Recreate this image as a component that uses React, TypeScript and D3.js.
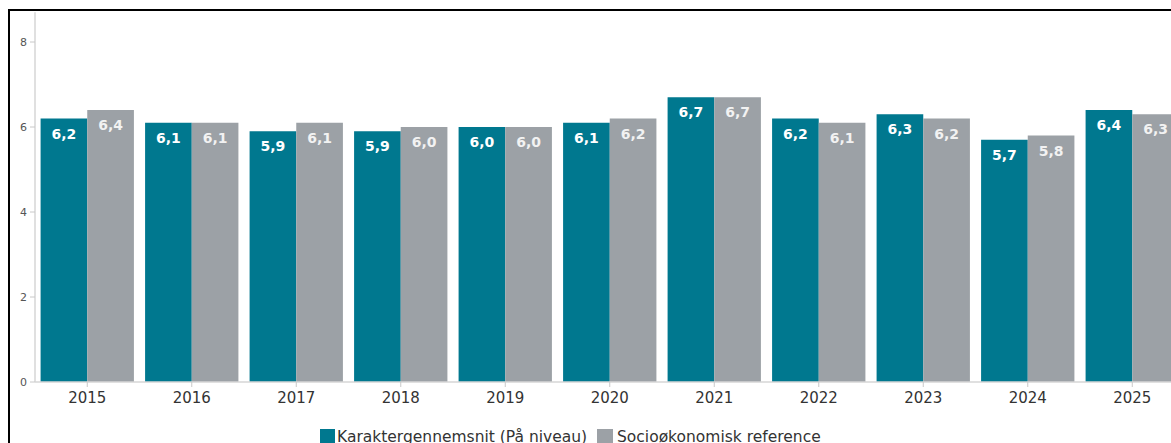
import React from "react";
import * as d3 from "d3";

const years = ["2015","2016","2017","2018","2019","2020","2021","2022","2023","2024","2025"];
const karakter = [6.2,6.1,5.9,5.9,6.0,6.1,6.7,6.2,6.3,5.7,6.4];
const socio = [6.4,6.1,6.1,6.0,6.0,6.2,6.7,6.1,6.2,5.8,6.3];
const seriesNames = ["Karaktergennemsnit (På niveau)", "Socioøkonomisk reference"];
const colors = ["#00788f", "#9ca1a6"];
const yTicks = [0,2,4,6,8];

export default function App() {
  const W = 1171, H = 443;
  const x0 = d3.scaleBand<string>().domain(years).range([35, 35 + 104.5 * years.length]).paddingInner(0.107).paddingOuter(0.0535);
  const x1 = d3.scaleBand<string>().domain(["a","b"]).range([0, x0.bandwidth()]);
  const y = d3.scaleLinear().domain([0, 8.7]).range([382, 12.25]);
  const font = "Verdana, 'DejaVu Sans', sans-serif";
  const fmt = (v: number) => v.toFixed(1).replace(".", ",");
  const series = [karakter, socio];
  return (
    <svg width={W} height={H} style={{position:"absolute", left:0, top:0, background:"#fff"}} fontFamily={font}>
      <rect x={9} y={10} width={1200} height={460} fill="none" stroke="#000" strokeWidth={2} />
      {/* y axis */}
      <line x1={35} x2={35} y1={y(8.7)} y2={y(0)} stroke="#d6d6d6" strokeWidth={1.5} />
      {yTicks.map(t => (
        <g key={t}>
          <line x1={30} x2={35} y1={y(t)} y2={y(t)} stroke="#c8c8c8" />
          <text x={27} y={y(t)} dy="0.35em" textAnchor="end" fontSize={11} fill="#555">{t}</text>
        </g>
      ))}
      {/* bars */}
      {years.map((yr, i) => (
        <g key={yr} transform={`translate(${x0(yr)},0)`}>
          {series.map((s, j) => {
            const k = j === 0 ? "a" : "b";
            const bx = x1(k)!;
            return (
              <g key={k}>
                <rect x={bx} y={y(s[i])} width={x1.bandwidth()} height={y(0) - y(s[i])} fill={colors[j]} />
                <text x={bx + x1.bandwidth()/2} y={y(s[i]) + 20} textAnchor="middle" fontSize={14} fontWeight="bold" fill={j===0?"#fff":"#f2f2f2"}>{fmt(s[i])}</text>
              </g>
            );
          })}
        </g>
      ))}
      {/* x axis */}
      <line x1={35} x2={W} y1={y(0)} y2={y(0)} stroke="#d6d6d6" strokeWidth={1.5} />
      {years.map(yr => {
        const cx = x0(yr)! + x0.bandwidth()/2;
        return (
          <g key={yr}>
            <line x1={cx} x2={cx} y1={y(0)} y2={y(0)+5} stroke="#c8c8c8" />
            <text x={cx} y={y(0)+21} textAnchor="middle" fontSize={15} fill="#333">{yr}</text>
          </g>
        );
      })}
      {/* legend */}
      <rect x={320} y={429} width={15} height={15} fill={colors[0]} />
      <text x={337} y={442} fontSize={15.5} fill="#333">{seriesNames[0]}</text>
      <rect x={597} y={429} width={16} height={15} fill={colors[1]} />
      <text x={617} y={442} fontSize={15.5} fill="#333">{seriesNames[1]}</text>
    </svg>
  );
}
